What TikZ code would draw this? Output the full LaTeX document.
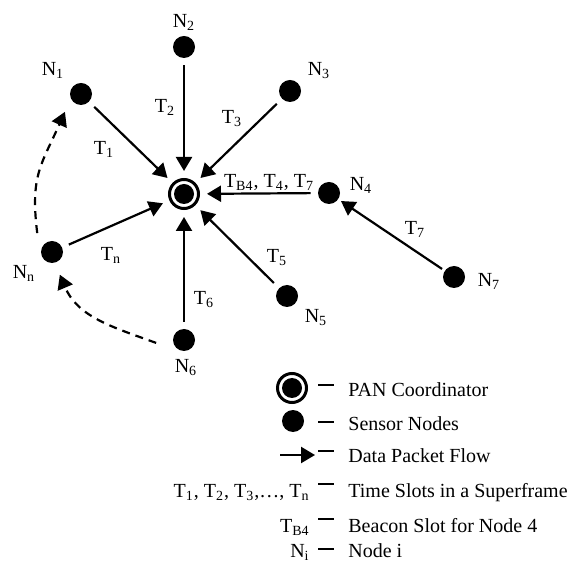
\documentclass[tikz,border=0pt]{standalone}
\usepackage{fontspec}
\setmainfont{Liberation Serif}
\usetikzlibrary{arrows.meta}
\usetikzlibrary{calc}
\def\rdsensor{5.5pt}
\def\rdring{7.25pt}
\def\rdcore{5pt}

\begin{document}
\begin{tikzpicture} [x = 0.5pt, y = 0.5pt,
    font = \fontsize{10}{12}\selectfont,
    sensor/.style = {circle, fill, inner sep = 0pt, minimum size = 2*\rdsensor},
    pan/.style = {circle, draw, line width = 1.5pt, inner sep = 0pt,
      minimum size = 2*\rdring,
      path picture = {\fill (path picture bounding box.center) circle (\rdcore);}},
    flow/.style = {line width = 1.1pt, -{Triangle[length=7pt, width=8pt]},
      shorten < = 3.5pt, shorten > = 3.5pt},
    hop/.style = {flow, dash pattern = on 4pt off 3pt,
      shorten < = 0pt, shorten > = 0pt},
    keytext/.style = {inner sep = 0pt}]
    \useasboundingbox (0, 0) rectangle (571, -565);

    \node[pan] (pan) at (184, -194) {};
    \node[sensor] (n1) at (81, -94) {};
    \node[sensor] (n2) at (184, -47) {};
    \node[sensor] (n3) at (290, -91) {};
    \node[sensor] (n4) at (329, -193) {};
    \node[sensor] (n5) at (287, -296) {};
    \node[sensor] (n6) at (184, -340) {};
    \node[sensor] (n7) at (454, -277) {};
    \node[sensor] (nn) at (52, -252) {};

    \node (l1) at (53, -70) {N\textsubscript{1}};
    \node (l2) at (184, -22) {N\textsubscript{2}};
    \node (l3) at (319, -71) {N\textsubscript{3}};
    \node (l4) at (361, -185) {N\textsubscript{4}};
    \node (l5) at (316, -318) {N\textsubscript{5}};
    \node (l6) at (186, -368) {N\textsubscript{6}};
    \node (l7) at (489, -281) {N\textsubscript{7}};
    \node (ln) at (24, -273) {N\textsubscript{n}};

    \draw[flow] (n1) -- (pan);
    \draw[flow] (n2) -- (pan);
    \draw[flow] (n3) -- (pan);
    \draw[flow] (n4) -- (pan);
    \draw[flow] (n5) -- (pan);
    \draw[flow] (n6) -- (pan);
    \draw[flow] (nn) -- (pan);
    \draw[flow, shorten < = 1.5pt, shorten > = 1.5pt] (n7) -- (n4);

    \node (t1) at (104, -149) {T\textsubscript{1}};
    \node (t2) at (165, -107) {T\textsubscript{2}};
    \node (t3) at (232, -119) {T\textsubscript{3}};
    \node (t4) at (269, -182)
      {T\textsubscript{B4}, T\textsubscript{4}, T\textsubscript{7}};
    \node (t5) at (277, -258) {T\textsubscript{5}};
    \node (t6) at (204, -300) {T\textsubscript{6}};
    \node (t7) at (415, -229) {T\textsubscript{7}};
    \node (tn) at (111, -255) {T\textsubscript{n}};

    \draw[hop] ($(nn) + (128:12pt)$)
      to[out = 97, in = 246, looseness = 1.2] ($(n1) + (228:12pt)$);
    \draw[hop] ($(n6) + (186:14pt)$)
      to[out = 160, in = 293] ($(nn) + (289:12pt)$);

    \node[pan] (keypan) at (292, -388) {};
    \node[sensor] (keydot) at (293, -421) {};
    \coordinate (keya) at (280, -455);
    \coordinate (keyb) at (315, -455);
    \draw[flow, shorten < = 0pt, shorten > = 0pt] (keya) -- (keyb);
    \node[keytext, anchor = base east] (keyt) at (310, -497)
      {T\textsubscript{1}, T\textsubscript{2}, T\textsubscript{3},…, T\textsubscript{n}};
    \node[keytext, anchor = base east] (keyb4) at (310, -532) {T\textsubscript{B4}};
    \node[keytext, anchor = base east] (keyi) at (310, -557) {N\textsubscript{i}};

    \foreach \y in {385, 422, 451, 484, 519, 549}
      \draw[line width = 1.1pt] (318, -\y) -- (334, -\y);

    \node[keytext, anchor = base west] (txpan) at (348, -397) {PAN Coordinator};
    \node[keytext, anchor = base west] (txdot) at (348, -430) {Sensor Nodes};
    \node[keytext, anchor = base west] (txflow) at (348, -462) {Data Packet Flow};
    \node[keytext, anchor = base west] (txslot) at (348, -497) {Time Slots in a Superframe};
    \node[keytext, anchor = base west] (txbeacon) at (348, -532) {Beacon Slot for Node 4};
    \node[keytext, anchor = base west] (txnode) at (348, -557) {Node i};
  \end{tikzpicture}
\end{document}
